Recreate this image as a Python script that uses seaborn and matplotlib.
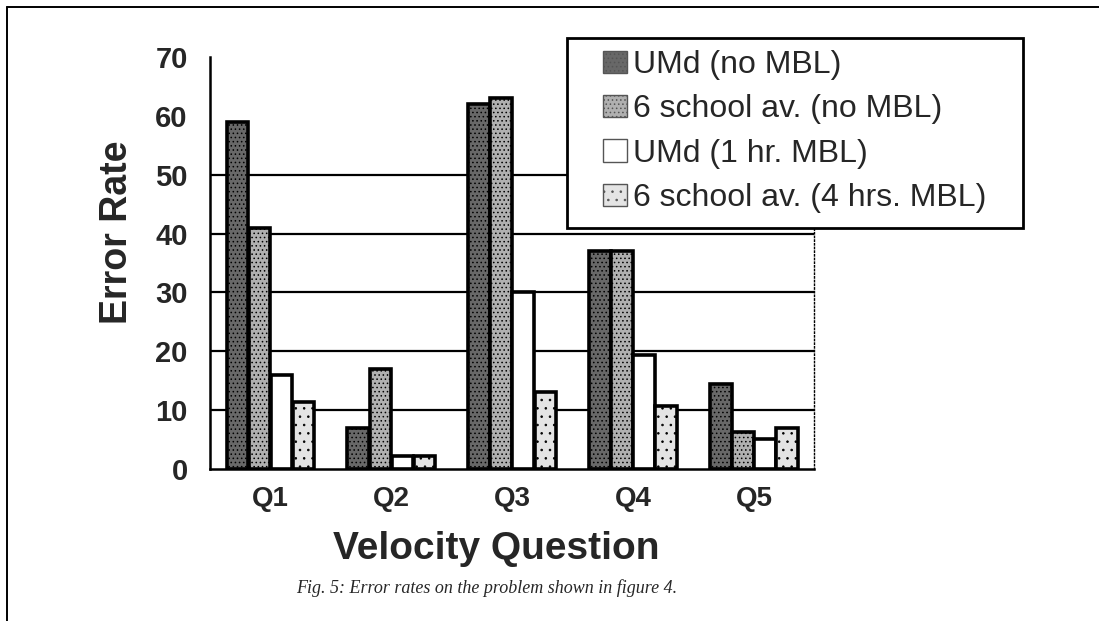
import matplotlib.pyplot as plt
import numpy as np
import pandas as pd
import seaborn as sns
from matplotlib.lines import Line2D
from matplotlib.patches import Patch, Rectangle


QUESTIONS = ["Q1", "Q2", "Q3", "Q4", "Q5"]
GROUPS = [
    "UMd (no MBL)",
    "6 school av. (no MBL)",
    "UMd (1 hr. MBL)",
    "6 school av. (4 hrs. MBL)",
]
UMD_NO_MBL = [59, 7, 62, 37, 14.5]
SCHOOL_NO_MBL = [41, 17, 63, 37, 6.3]
UMD_1HR_MBL = [16, 2.2, 30, 19.3, 5]
SCHOOL_4HR_MBL = [11.4, 2.2, 13, 10.7, 7]
Y_TICKS = [0, 10, 20, 30, 40, 50, 60, 70]
GRID_LEVELS = [10, 20, 30, 40, 50]

COLORS = ["#686868", "#b0b0b0", "#ffffff", "#e4e4e4"]
HATCHES = ["....", "....", "", ".."]


def main() -> None:
    sns.set_theme(style="white")
    plt.rcParams["font.family"] = ["Liberation Sans", "DejaVu Sans"]
    plt.rcParams["hatch.color"] = "#333333"
    plt.rcParams["hatch.linewidth"] = 0.6

    df = pd.DataFrame({
        "question": QUESTIONS * 4,
        "group": np.repeat(GROUPS, len(QUESTIONS)),
        "rate": UMD_NO_MBL + SCHOOL_NO_MBL + UMD_1HR_MBL + SCHOOL_4HR_MBL,
    })

    fig = plt.figure(figsize=(10.99, 6.21), dpi=100)
    ax = fig.add_axes([0.191, 0.245, 0.550, 0.663])

    # gridlines stop at 50, the legend box covers the rest
    for y in GRID_LEVELS:
        ax.axhline(y, color="black", linewidth=1.6, zorder=0)

    sns.barplot(
        data=df, x="question", y="rate", hue="group", hue_order=GROUPS,
        palette=COLORS, width=0.73, gap=0.03, edgecolor="black",
        linewidth=2.6, legend=False, ax=ax, zorder=2,
    )
    for i, bars in enumerate(ax.containers):
        for bar in bars:
            bar.set_hatch(HATCHES[i])

    ax.set_ylim(0, 70)
    ax.set_xlim(-0.5, 4.5)
    ax.set_yticks(Y_TICKS)
    ax.set_yticklabels([str(t) for t in Y_TICKS], fontsize=21, fontweight="bold")
    ax.set_xticks(range(len(QUESTIONS)))
    ax.set_xticklabels(QUESTIONS, fontsize=20, fontweight="bold")
    ax.set_xticks(np.arange(-0.5, 5.0, 1.0), minor=True)
    ax.tick_params(axis="x", which="major", length=0, pad=12)
    ax.tick_params(axis="x", which="minor", length=7, width=1.5,
                   direction="inout", color="black")
    ax.tick_params(axis="y", length=6, width=1.5, direction="out",
                   color="black", pad=10)
    for tick in ax.yaxis.get_major_ticks()[-2:]:
        tick.tick1line.set_visible(False)

    ax.set_xlabel("Velocity Question", fontsize=28, fontweight="bold", va="center")
    ax.xaxis.set_label_coords(0.474, -0.194)
    ax.set_ylabel("Error Rate", fontsize=27, fontweight="bold", va="center")
    ax.yaxis.set_label_coords(-0.154, 0.575)

    ax.spines["top"].set_visible(False)
    ax.spines["left"].set_color("black")
    ax.spines["left"].set_linewidth(1.8)
    ax.spines["bottom"].set_color("black")
    ax.spines["bottom"].set_linewidth(1.8)
    ax.spines["right"].set_color("black")
    ax.spines["right"].set_linewidth(1.0)
    ax.spines["right"].set_linestyle(":")

    # legend box: wider side padding than matplotlib's uniform borderpad
    fig.add_artist(Rectangle((567 / 1099, 1 - 228 / 621), 456 / 1099, 190 / 621,
                             transform=fig.transFigure, facecolor="white",
                             edgecolor="black", linewidth=2.0, zorder=4))
    handles = [
        Patch(facecolor=c, edgecolor="#555555", hatch=h, linewidth=1.0)
        for c, h in zip(COLORS, HATCHES)
    ]
    leg = fig.legend(
        handles, GROUPS, loc="upper left", bbox_to_anchor=(603 / 1099, 1 - 50 / 621),
        fontsize=23, frameon=False, handlelength=0.75, handleheight=0.7,
        handletextpad=0.2, labelspacing=0.45, borderpad=0.0, borderaxespad=0.0,
    )
    leg.set_zorder(5)

    # page border: top and left edges
    for xs, ys in [([0.006, 0.006], [0.0, 0.989]), ([0.006, 1.0], [0.989, 0.989])]:
        fig.add_artist(Line2D(xs, ys, color="black", linewidth=1.4,
                              transform=fig.transFigure))

    fig.text(0.443, 0.053, "Fig. 5: Error rates on the problem shown in figure 4.",
             ha="center", va="center", fontsize=13, style="italic",
             family=["Liberation Serif", "DejaVu Serif"])

    fig.savefig("out.png", dpi=100)
    plt.close(fig)


if __name__ == "__main__":
    main()
